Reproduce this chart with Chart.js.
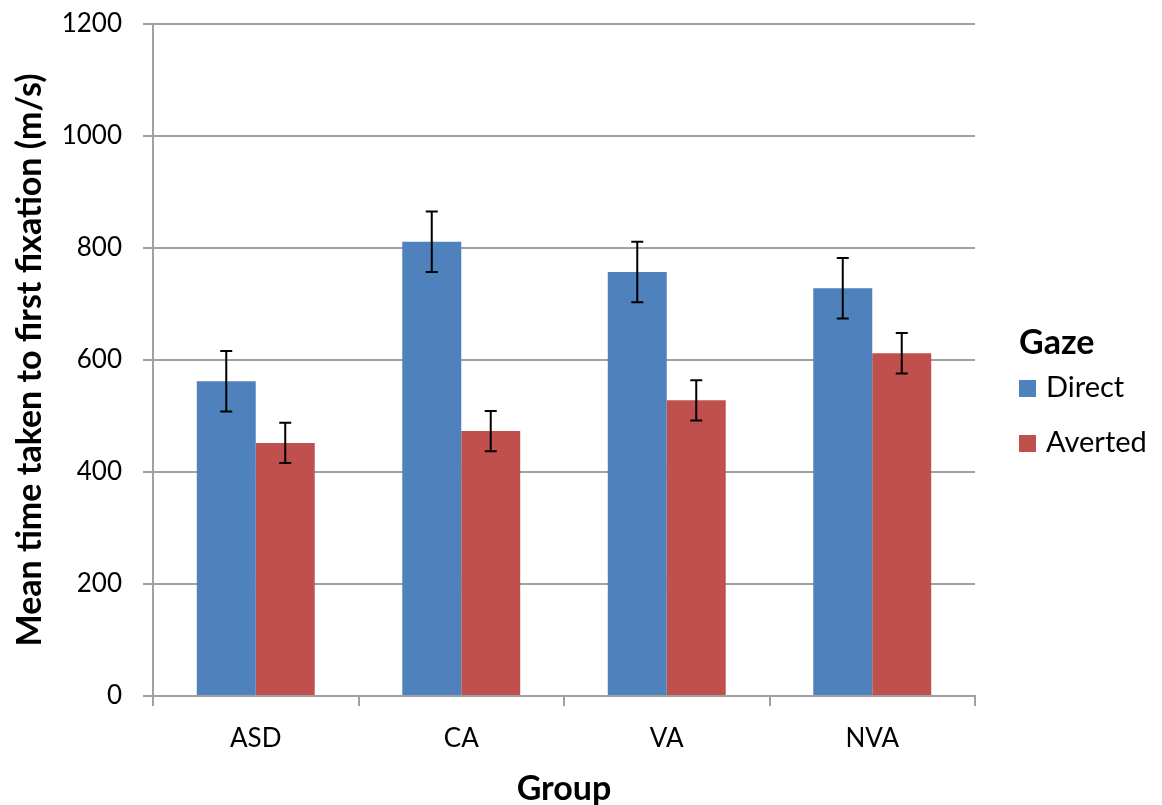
<!DOCTYPE html>
<html>
<head>
<meta charset="utf-8">
<title>Mean time taken to first fixation</title>
<script src="https://cdn.jsdelivr.net/npm/chart.js@4/dist/chart.umd.min.js"></script>
<style>
  html, body { margin: 0; padding: 0; background: #fff; }
  #grafico { display: block; }
</style>
</head>
<body>
<canvas id="grafico" width="1162" height="805"></canvas>
<script>
// dados
const grupos = ["ASD", "CA", "VA", "NVA"];
const direto = [562, 811, 757, 728];
const desviado = [452, 473, 528, 612];
const erro_direto = [54, 54, 54, 54];
const erro_desviado = [36, 36, 36, 36];
const ticks_y = [0, 200, 400, 600, 800, 1000, 1200];

const FONTE = "Lato, Carlito, Calibri, sans-serif";
const CINZA = "#a0a0a0";

Chart.defaults.color = "#000";
Chart.defaults.font.family = FONTE;

// barras de erro desenhadas pelas escalas do próprio gráfico
const barras_erro = {
  id: "barras_erro",
  afterDatasetsDraw(chart) {
    const ctx = chart.ctx;
    const y = chart.scales.y;
    ctx.save();
    ctx.strokeStyle = "#000";
    ctx.lineWidth = 2;
    chart.data.datasets.forEach((ds, i) => {
      const meta = chart.getDatasetMeta(i);
      meta.data.forEach((barra, j) => {
        const v = ds.data[j];
        const e = ds.erros[j];
        const topo = y.getPixelForValue(v + e);
        const base = y.getPixelForValue(v - e);
        const x = barra.x;
        ctx.beginPath();
        ctx.moveTo(x, topo); ctx.lineTo(x, base);
        ctx.moveTo(x - 6, topo); ctx.lineTo(x + 6, topo);
        ctx.moveTo(x - 6, base); ctx.lineTo(x + 6, base);
        ctx.stroke();
      });
    });
    ctx.restore();
  },
};

// legenda à direita, no estilo do Excel
const legenda = {
  id: "legenda",
  afterDraw(chart) {
    const ctx = chart.ctx;
    const x0 = chart.chartArea.right + 44;
    ctx.save();
    ctx.fillStyle = "#000";
    ctx.textBaseline = "alphabetic";
    ctx.font = `bold 34px ${FONTE}`;
    ctx.fillText("Gaze", x0, 354);
    ctx.font = `29px ${FONTE}`;
    chart.data.datasets.forEach((ds, i) => {
      const yb = 397 + i * 55;
      ctx.fillStyle = ds.backgroundColor;
      ctx.fillRect(x0, yb - 17, 17, 17);
      ctx.fillStyle = "#000";
      ctx.fillText(ds.label, x0 + 27, yb);
    });
    ctx.restore();
  },
};

new Chart(document.getElementById("grafico"), {
  type: "bar",
  data: {
    labels: grupos,
    datasets: [
      { label: "Direct", data: direto, erros: erro_direto, backgroundColor: "#4f81bd" },
      { label: "Averted", data: desviado, erros: erro_desviado, backgroundColor: "#c0504d" },
    ],
  },
  options: {
    responsive: false,
    animation: false,
    layout: { padding: { top: 24, right: 187, left: 0, bottom: -8 } },
    datasets: { bar: { categoryPercentage: 0.574, barPercentage: 1 } },
    plugins: { legend: { display: false }, tooltip: { enabled: false } },
    scales: {
      x: {
        grid: { offset: true, drawOnChartArea: false, drawTicks: true, tickLength: 10, color: CINZA, lineWidth: 2 },
        border: { color: CINZA, width: 2 },
        ticks: { font: { size: 26 }, padding: 17 },
        title: { display: true, text: "Group", font: { size: 34, weight: "bold" }, padding: { top: 0 } },
        afterFit: (s) => { s.height = 117; },
      },
      y: {
        min: 0,
        max: 1200,
        afterBuildTicks: (s) => { s.ticks = ticks_y.map((v) => ({ value: v })); },
        grid: { color: CINZA, lineWidth: 2, tickLength: 10 },
        border: { color: CINZA, width: 2 },
        ticks: { font: { size: 26 }, padding: 21, callback: (v) => String(v) },
        title: { display: true, text: "Mean time taken to first fixation (m/s)", font: { size: 34, weight: "bold" }, padding: { top: 10 } },
        afterFit: (s) => { s.width = 153; s.paddingTop = 0; s.paddingBottom = 0; },
      },
    },
  },
  plugins: [barras_erro, legenda],
});
</script>
</body>
</html>
